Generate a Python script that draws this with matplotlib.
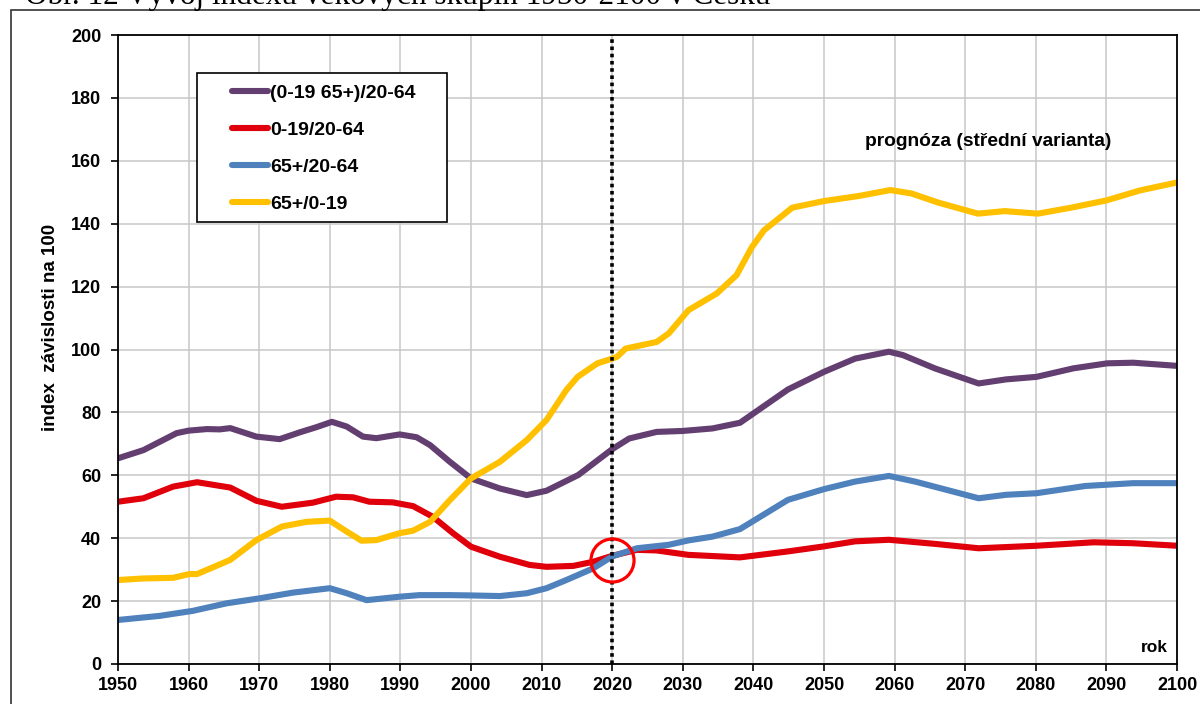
import numpy as np
import matplotlib
matplotlib.use('Agg')
import matplotlib.pyplot as plt
from matplotlib.patches import Rectangle

# (0-19 65+)/20-64
yrs_total = [1950, 1953.6, 1958.3, 1960, 1962.6, 1964.4, 1965.9, 1969.6, 1972.9, 1975.8,
             1978.1, 1980.3, 1982.4, 1984.7, 1986.6, 1989.9, 1992.3, 1994.2, 1997, 2000,
             2004.1, 2007.9, 2010.7, 2015.2, 2018.3, 2020, 2022.4, 2026.3, 2030, 2034.2,
             2038.1, 2044.9, 2050, 2054.4, 2059.2, 2061.2, 2065.7, 2071.9, 2075.8, 2080.1,
             2085.3, 2090.1, 2093.8, 2100]
val_total = [65.4, 68.0, 73.4, 74.2, 74.7, 74.6, 75.0, 72.3, 71.5, 73.7,
             75.3, 77.0, 75.5, 72.3, 71.8, 73.0, 72.1, 69.6, 64.3, 59.0,
             55.8, 53.7, 55.1, 60.1, 65.4, 68.3, 71.7, 73.8, 74.1, 74.9,
             76.7, 87.3, 92.9, 97.1, 99.3, 98.2, 94.0, 89.2, 90.5, 91.3,
             94.0, 95.6, 95.8, 94.8]

# 0-19/20-64
yrs_young = [1950, 1953.6, 1957.8, 1961.2, 1965.9, 1969.6, 1973.2, 1977.6, 1980.9, 1983.3,
             1985.6, 1988.9, 1991.8, 1994.6, 1997.5, 2000, 2004.1, 2008.3, 2010.7, 2014.5,
             2017.3, 2020, 2023.5, 2026.3, 2030.8, 2038.1, 2044.9, 2050, 2054.4, 2059.2,
             2065.7, 2071.9, 2080.1, 2088.2, 2093.8, 2100]
val_young = [51.6, 52.7, 56.4, 57.8, 56.1, 51.9, 50.0, 51.3, 53.2, 53.0,
             51.6, 51.4, 50.2, 46.8, 41.5, 37.3, 34.1, 31.5, 30.9, 31.2,
             32.5, 34.4, 36.3, 36.1, 34.7, 33.9, 35.8, 37.4, 39.0, 39.5,
             38.2, 36.8, 37.6, 38.7, 38.4, 37.6]

# 65+/20-64
yrs_old = [1950, 1955.9, 1960.6, 1965.4, 1970.1, 1974.8, 1980, 1982.4, 1985.2, 1989.9,
           1992.7, 1997, 2000, 2004.1, 2007.9, 2010.7, 2013.5, 2017.3, 2020, 2023.5,
           2028, 2030.8, 2034.2, 2038.1, 2044.9, 2050, 2054.4, 2059.2, 2062.9, 2071.9,
           2075.8, 2080.1, 2087, 2093.8, 2100]
val_old = [14.0, 15.3, 16.9, 19.3, 20.9, 22.7, 24.1, 22.5, 20.3, 21.4,
           21.9, 21.9, 21.8, 21.6, 22.5, 24.1, 26.7, 30.4, 34.2, 36.8,
           37.9, 39.3, 40.5, 42.9, 52.2, 55.6, 58.0, 59.8, 58.0, 52.7,
           53.8, 54.3, 56.6, 57.5, 57.5]

# 65+/0-19
yrs_aging = [1950, 1953.6, 1957.8, 1960.1, 1961.2, 1965.9, 1969.6, 1973.2, 1976.7, 1980,
             1982.4, 1984.5, 1986.6, 1989.9, 1991.8, 1994.2, 1997, 2000, 2004.1, 2007.9,
             2010.7, 2013.5, 2015.1, 2017.9, 2020, 2020.7, 2021.9, 2026.3, 2028, 2030.8,
             2034.8, 2037.6, 2039.8, 2041.5, 2045.5, 2050, 2054.9, 2059.4, 2062.4, 2066.2,
             2071.8, 2075.6, 2080.3, 2085, 2090, 2094.8, 2100]
val_aging = [26.7, 27.2, 27.4, 28.6, 28.6, 33.1, 39.4, 43.7, 45.2, 45.6,
             42.1, 39.2, 39.4, 41.6, 42.4, 45.2, 52.1, 59.0, 64.3, 71.2,
             77.6, 87.1, 91.3, 95.6, 97.1, 97.7, 100.3, 102.4, 105.1, 112.5,
             117.8, 123.6, 132.6, 137.9, 145.1, 147.2, 148.8, 150.7, 149.6, 146.7,
             143.2, 144.0, 143.2, 145.1, 147.4, 150.6, 153.1]

series_labels = ['(0-19 65+)/20-64', '0-19/20-64', '65+/20-64', '65+/0-19']
series_colors = ['#633e70', '#e0000b', '#4f81bd', '#ffc000']

forecast_start = 2020
highlight_year, highlight_value = 2020, 33
x_ticks = list(range(1950, 2101, 10))
y_ticks = list(range(0, 201, 20))

plt.rcParams['font.family'] = ['Liberation Sans', 'DejaVu Sans']
plt.rcParams['font.weight'] = 'bold'

fig = plt.figure(figsize=(12, 7.04), dpi=100)
ax = fig.add_axes([118 / 1200, 40 / 704, 1059 / 1200, 629 / 704])

series = [(yrs_total, val_total), (yrs_young, val_young),
          (yrs_old, val_old), (yrs_aging, val_aging)]
for (xs, ys), lab, col in zip(series, series_labels, series_colors):
    ax.plot(xs, ys, color=col, linewidth=4.4, label=lab,
            solid_capstyle='round', solid_joinstyle='round')

ax.axvline(forecast_start, color='black', linestyle=(0, (1, 1)), linewidth=2.6, zorder=5)
ax.plot(highlight_year, highlight_value, 'o', ms=31, mfc='none', mec='#ff0000', mew=2.3, zorder=6)

ax.set_xlim(1950, 2100)
ax.set_ylim(0, 200)
ax.set_xticks(x_ticks)
ax.set_yticks(y_ticks)
ax.grid(True, color='#c8c8c8', linewidth=1.1)
ax.set_axisbelow(True)
for s in ax.spines.values():
    s.set_color('black')
    s.set_linewidth(1.3)
ax.tick_params(axis='both', direction='out', length=5, width=1.2, labelsize=13)
ax.tick_params(axis='y', pad=7)
ax.tick_params(axis='x', pad=4)
for lbl in ax.get_xticklabels() + ax.get_yticklabels():
    lbl.set_fontweight('bold')

ax.set_ylabel('index  závislosti na 100', fontsize=13.5, fontweight='bold')
ax.yaxis.set_label_coords(-0.056, 0.535)

ax.text(2073.2, 166, 'prognóza (střední varianta)', fontsize=13.8, fontweight='bold',
        ha='center', va='center')
ax.text(2098.7, 5.4, 'rok', fontsize=12.5, fontweight='bold', ha='right', va='center')

# legend box
ax.add_patch(Rectangle((0.0746, 0.7030), 0.2365, 0.2366, transform=ax.transAxes,
                       facecolor='white', edgecolor='black', linewidth=1.2, zorder=7))
leg = ax.legend(loc='upper left', bbox_to_anchor=(0.108, 0.922), frameon=False,
                prop={'size': 14, 'weight': 'bold'}, handlelength=1.85, handletextpad=0.1,
                labelspacing=1.0, borderpad=0, borderaxespad=0)
leg.set_zorder(8)

# outer frame and cut-off caption
fig.patches.append(Rectangle((10.5 / 1200, -0.1), 1.2, 1.1 - 10.5 / 704, transform=fig.transFigure,
                             facecolor='none', edgecolor='#333333', linewidth=1.2))
fig.text(25 / 1200, 1 - 4 / 704, 'Obr. 12 Vývoj indexů věkových skupin 1950-2100 v Česku',
         fontsize=22.5, fontweight='normal', family=['Liberation Serif', 'DejaVu Serif'],
         va='baseline', ha='left')

fig.savefig('out.png', dpi=100)
